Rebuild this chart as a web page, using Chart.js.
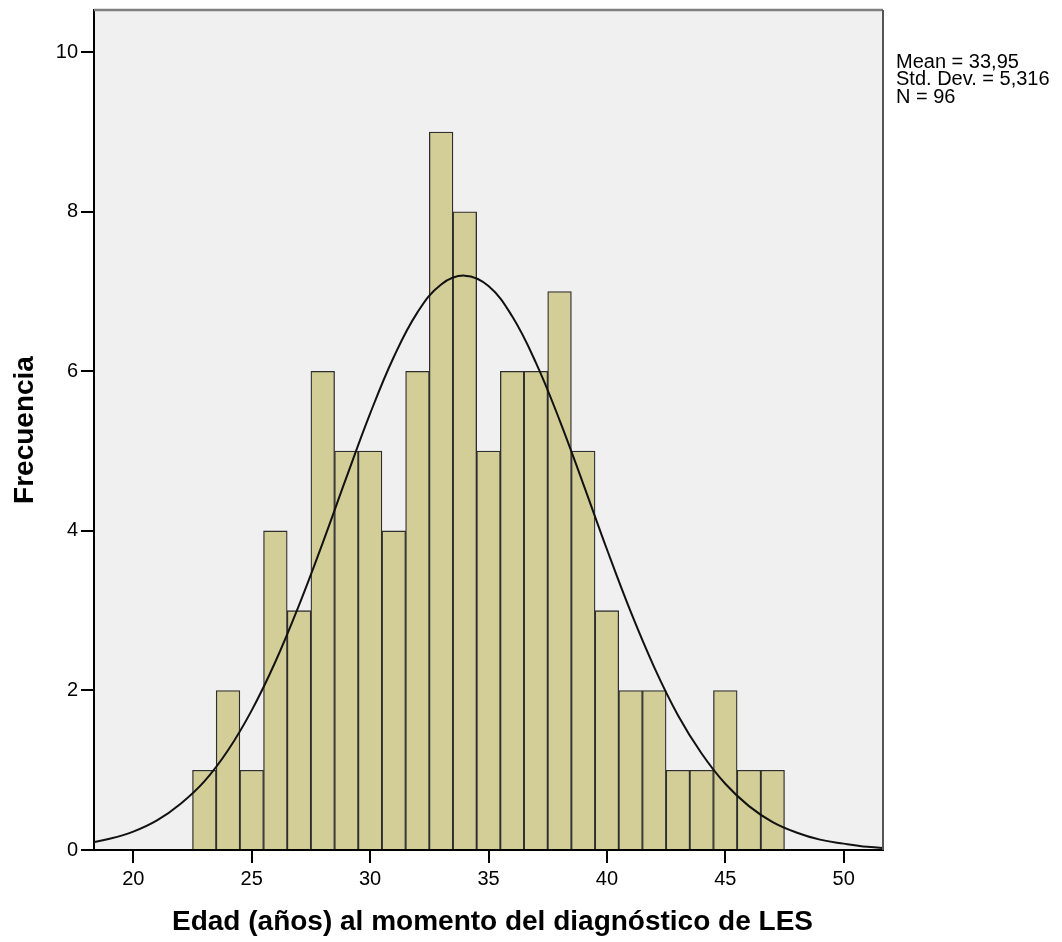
<!DOCTYPE html>
<html>
<head>
<meta charset="utf-8">
<script src="https://cdn.jsdelivr.net/npm/chart.js@4.4.1/dist/chart.umd.min.js"></script>
<style>
  html, body { margin: 0; padding: 0; background: #fff; }
  #wrap { width: 1062px; height: 942px; }
</style>
</head>
<body>
<div id="wrap"><canvas id="c" width="1062" height="942"></canvas></div>
<script>
// Histogram bins (centre of each 1-year bin) and frequencies
const binCentres = [23,24,25,26,27,28,29,30,31,32,33,34,35,36,37,38,39,40,41,42,43,44,45,46,47];
const frequencies = [1,2,1,4,3,6,5,5,4,6,9,8,5,6,6,7,5,3,2,2,1,1,2,1,1];

// Normal curve
const curveX = [18,19,20,21,22,23,24,25,26,27,28,29,30,31,32,33,34,35,36,37,38,39,40,41,42,43,44,45,46,47,48,49,50,51,52];
const curveY = [0.08,0.14,0.23,0.37,0.58,0.86,1.25,1.75,2.36,3.07,3.85,4.67,5.47,6.18,6.74,7.09,7.2,7.07,6.69,6.11,5.39,4.59,3.77,2.99,2.29,1.69,1.21,0.83,0.55,0.35,0.22,0.13,0.08,0.04,0.02];

const xTicks = [20,25,30,35,40,45,50];
const yTicks = [0,2,4,6,8,10];

const statsLines = ['Mean = 33,95', 'Std. Dev. = 5,316', 'N = 96'];
const xTitle = 'Edad (años) al momento del diagnóstico de LES';
const yTitle = 'Frecuencia';

const FONT = "'Liberation Sans', Arial, sans-serif";

const decor = {
  id: 'decor',
  beforeDraw(chart) {
    const {ctx, chartArea: a} = chart;
    ctx.save();
    ctx.fillStyle = '#F0F0F0';
    ctx.fillRect(a.left, a.top, a.right - a.left, a.bottom - a.top);
    ctx.restore();
  },
  afterDraw(chart) {
    const {ctx, chartArea: a} = chart;
    ctx.save();
    // top & right frame
    ctx.strokeStyle = '#7f7f7f';
    ctx.lineWidth = 2.5;
    ctx.beginPath();
    ctx.moveTo(a.left, a.top);
    ctx.lineTo(a.right, a.top);
    ctx.stroke();
    ctx.strokeStyle = '#555';
    ctx.lineWidth = 2;
    ctx.beginPath();
    ctx.moveTo(a.right, a.top);
    ctx.lineTo(a.right, a.bottom);
    ctx.stroke();

    // stats text
    ctx.fillStyle = '#000';
    ctx.font = '20px ' + FONT;
    ctx.textAlign = 'left';
    ctx.textBaseline = 'alphabetic';
    statsLines.forEach((t, i) => ctx.fillText(t, 896, 68 + i * 17.3));

    // axis titles
    ctx.font = 'bold 28px ' + FONT;
    ctx.textAlign = 'center';
    ctx.fillText(xTitle, (a.left + a.right) / 2 + 4, 930);
    ctx.save();
    ctx.translate(33, (a.top + a.bottom) / 2);
    ctx.rotate(-Math.PI / 2);
    ctx.fillText(yTitle, 0, 0);
    ctx.restore();
    ctx.restore();
  }
};

new Chart(document.getElementById('c'), {
  type: 'bar',
  data: {
    datasets: [
      {
        type: 'line',
        data: curveX.map((x, i) => ({x, y: curveY[i]})),
        borderColor: '#111',
        borderWidth: 2,
        pointRadius: 0,
        tension: 0.4,
        fill: false,
        order: 0
      },
      {
        type: 'bar',
        data: binCentres.map((x, i) => ({x, y: frequencies[i]})),
        backgroundColor: '#D3CE98',
        borderColor: '#2e2e2e',
        borderWidth: 1.3,
        borderSkipped: 'bottom',
        barPercentage: 1,
        categoryPercentage: 1,
        order: 1
      }
    ]
  },
  options: {
    responsive: false,
    devicePixelRatio: 1,
    animation: false,
    events: [],
    layout: { padding: { left: 0, top: 10, right: 179, bottom: 0 } },
    plugins: { legend: { display: false }, tooltip: { enabled: false } },
    scales: {
      x: {
        type: 'linear',
        offset: false,
        min: 18.34,
        max: 51.66,
        afterBuildTicks(s) { s.ticks = xTicks.map(v => ({value: v})); },
        afterFit(s) { s.height = 92; s.paddingLeft = 0; s.paddingRight = 0; },
        ticks: { font: { size: 20, family: FONT }, color: '#000', padding: 4, maxRotation: 0, autoSkip: false },
        grid: { offset: false, drawOnChartArea: false, drawTicks: true, tickLength: 13, tickColor: '#000', lineWidth: 2 },
        border: { color: '#000', width: 2 }
      },
      y: {
        type: 'linear',
        min: 0,
        max: 10.53,
        afterBuildTicks(s) { s.ticks = yTicks.map(v => ({value: v})); },
        afterFit(s) { s.width = 94; s.paddingTop = 0; s.paddingBottom = 0; },
        ticks: { font: { size: 20, family: FONT }, color: '#000', padding: 3 },
        grid: { offset: false, drawOnChartArea: false, drawTicks: true, tickLength: 13, tickColor: '#000', lineWidth: 2 },
        border: { color: '#000', width: 2 }
      }
    }
  },
  plugins: [decor]
});
</script>
</body>
</html>
